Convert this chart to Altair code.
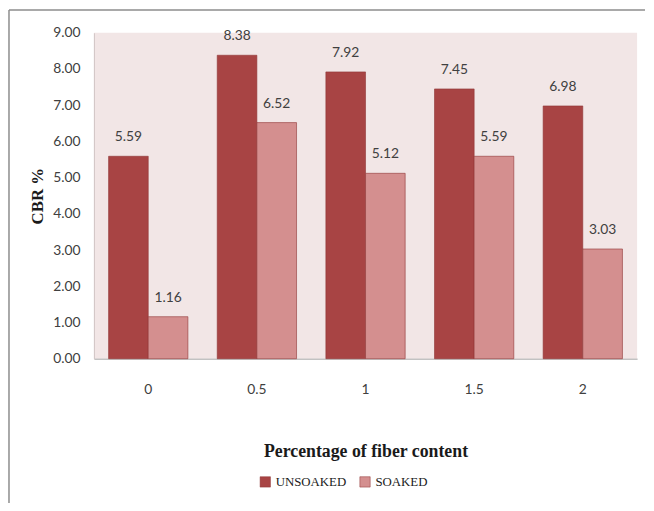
import altair as alt
import pandas as pd

categories = ["0", "0.5", "1", "1.5", "2"]
unsoaked = [5.59, 8.38, 7.92, 7.45, 6.98]
soaked = [1.16, 6.52, 5.12, 5.59, 3.03]
series = ["UNSOAKED", "SOAKED"]
colors = ["#A84444", "#D48F8F"]
y_ticks = [0, 1, 2, 3, 4, 5, 6, 7, 8, 9]

rows = []
for c, u, s in zip(categories, unsoaked, soaked):
    rows.append({"fiber": c, "series": "UNSOAKED", "cbr": u})
    rows.append({"fiber": c, "series": "SOAKED", "cbr": s})
df = pd.DataFrame(rows)

num_font = "Lato"

x = alt.X("fiber:N", sort=categories,
          scale=alt.Scale(paddingInner=0.27, paddingOuter=0.135),
          axis=alt.Axis(title="Percentage of fiber content", labelAngle=0,
                        labelFont=num_font, labelFontSize=14,
                        labelColor="#404040", labelPadding=24, ticks=False,
                        domainColor="#A6A6A6",
                        titleFont="Liberation Serif", titleFontSize=18,
                        titleFontWeight="bold", titleColor="#1a1a1a",
                        titleY=85, titleBaseline="top"))
y = alt.Y("cbr:Q", scale=alt.Scale(domain=[0, 9], nice=False),
          axis=alt.Axis(title="CBR %", values=y_ticks,
                        format=".2f", grid=False, ticks=False,
                        labelOverlap=False, labelBound=False, labelFlush=False,
                        domainColor="#D0C4C4", labelPadding=14,
                        labelFont=num_font, labelFontSize=14,
                        labelColor="#404040",
                        titleFont="Liberation Serif", titleFontSize=17,
                        titleFontWeight="bold", titleColor="#1a1a1a",
                        titleX=-57, titleY=165, titleAngle=-90,
                        titleBaseline="middle", titleAlign="center"))
xoff = alt.XOffset("series:N", sort=series)
color = alt.Color("series:N", sort=series,
                  scale=alt.Scale(domain=series, range=colors),
                  legend=alt.Legend(title=None, orient="none", direction="horizontal",
                                    legendX=167, legendY=448,
                                    symbolType="square", symbolSize=110,
                                    symbolStrokeColor="#8B3030", symbolStrokeWidth=0.5,
                                    labelFont="Liberation Serif", labelFontSize=13,
                                    labelColor="#1a1a1a", columnPadding=12,
                                    symbolOpacity=1))

bars = alt.Chart(df).mark_bar(stroke="#8E3535", strokeWidth=0.6).encode(
    x=x, xOffset=xoff, y=y, color=color,
)

labels = alt.Chart(df).mark_text(baseline="bottom", dy=-12,
                                 font=num_font, fontSize=14,
                                 color="#404040").encode(
    x=x, xOffset=xoff, y=y,
    text=alt.Text("cbr:Q", format=".2f"),
)

frame_df = pd.DataFrame({"k": [0]})
left_line = alt.Chart(frame_df).mark_rule(color="#8C8C8C", strokeWidth=1.5).encode(
    x=alt.value(-86), y=alt.value(-23), y2=alt.value(485))
top_line = alt.Chart(frame_df).mark_rule(color="#8C8C8C", strokeWidth=1.5).encode(
    x=alt.value(-86), x2=alt.value(558), y=alt.value(-23))

chart = alt.layer(bars, labels, left_line, top_line).properties(
    width=550, height=330,
    autosize=alt.AutoSizeParams(type="none"),
    padding={"left": 87, "top": 22, "right": 9, "bottom": 143},
    background="white",
).configure_view(fill="#F2E6E6", stroke=None)

chart.save("out.html", embed_options={"renderer": "svg", "actions": False})
